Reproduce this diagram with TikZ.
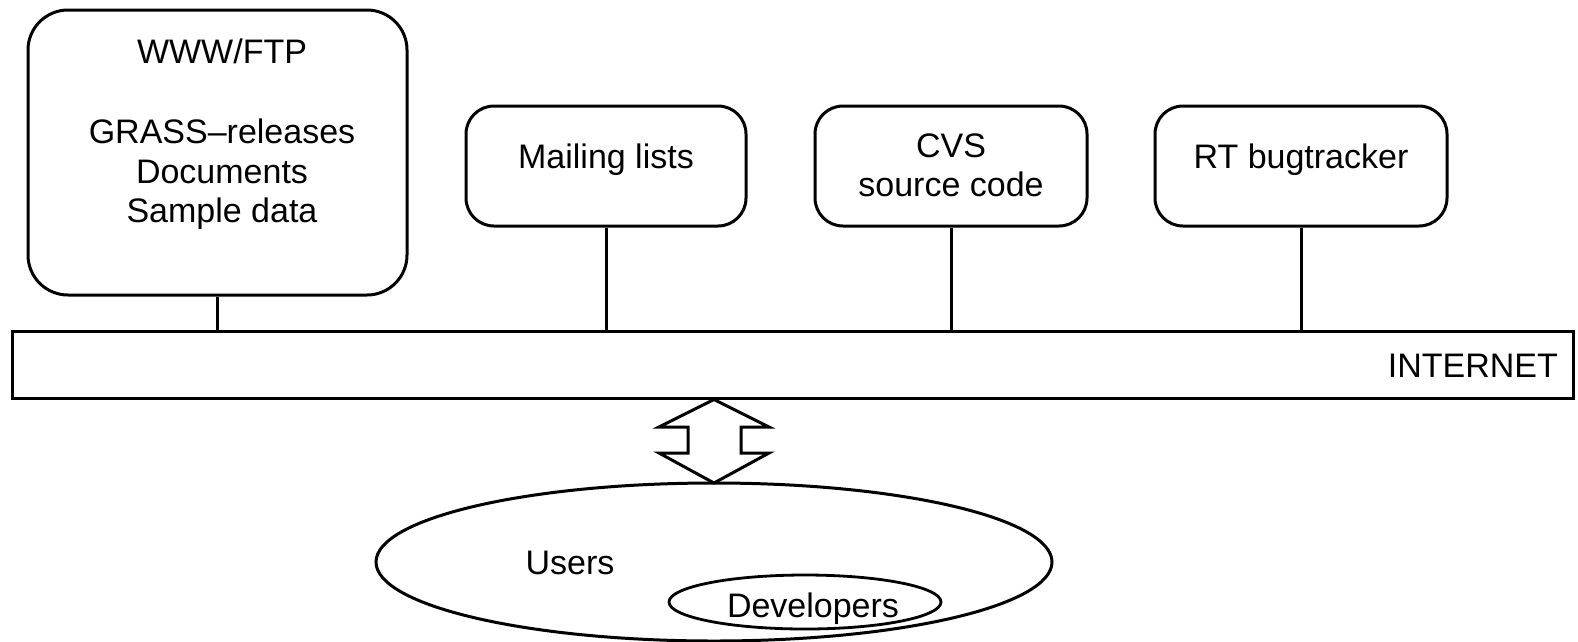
\documentclass[tikz,border=0pt]{standalone}
\usepackage{fontspec}
\setmainfont{Liberation Sans}
\begin{document}
\begin{tikzpicture}[x=1pt,y=-1pt,
  every node/.style={font=\fontsize{34}{40}\selectfont,inner sep=0pt},
  txt/.style={anchor=base},
  rbox/.style={draw,line width=3pt,rounded corners=28pt,minimum height=120pt},
  bigbox/.style={draw,line width=3pt,rounded corners=40pt,minimum width=379pt,minimum height=285pt},
  link/.style={line width=3pt},
  bar/.style={draw,line width=3pt}]
\useasboundingbox (0,0) rectangle (1578,641);
% boxes
\node[bigbox] (www) at (217.5,152.5) {};
\node[txt] (wwwt) at (222,63) {WWW/FTP};
\node[txt] (wwwa) at (222,143) {GRASS--releases};
\node[txt] (wwwb) at (222,183) {Documents};
\node[txt] (wwwc) at (222,222) {Sample data};
\node[rbox,minimum width=280pt] (mail) at (606,166) {};
\node[txt] (mailt) at (606,168) {Mailing lists};
\node[rbox,minimum width=272pt] (cvs) at (951,166) {};
\node[txt] (cvsa) at (951,157) {CVS};
\node[txt] (cvsb) at (951,196) {source code};
\node[rbox,minimum width=292pt] (rt) at (1301,166) {};
\node[txt] (rtt) at (1301,168) {RT bugtracker};
% internet bar
\node[bar,minimum width=1561pt,minimum height=67pt] (net) at (792.5,364.5) {};
\node[anchor=base east] (nett) at (1558,377) {INTERNET};
% connectors
\draw[link] (www.south) -- (net.north -| www.south);
\draw[link] (mail.south) -- (net.north -| mail.south);
\draw[link] (cvs.south) -- (net.north -| cvs.south);
\draw[link] (rt.south) -- (net.north -| rt.south);
% ellipses
\draw[line width=3pt] (714,562) ellipse [x radius=338pt, y radius=79pt];
\coordinate (users) at (714,483);
\node[txt] (usert) at (570,574) {Users};
\draw[line width=2.8pt] (805,602) ellipse [x radius=136pt, y radius=27pt];
\node[txt] (devt) at (813,617) {Developers};
% double arrow between internet and users
\coordinate (atop) at (net.south -| users);
\draw[line width=3pt,line join=miter,fill=white]
  (atop) -- (659,427) -- (688,427) -- (688,453) -- (659,453) -- (users)
  -- (769,453) -- (741,453) -- (741,427) -- (769,427) -- cycle;
\end{tikzpicture}
\end{document}
